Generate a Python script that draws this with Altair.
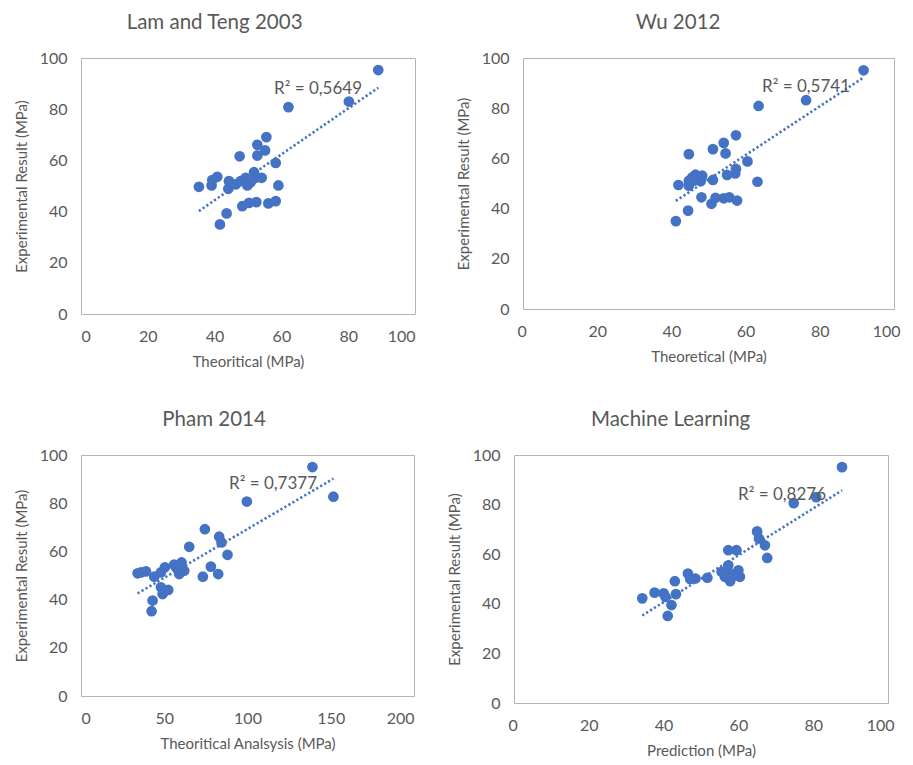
import altair as alt
import pandas as pd

# ---------------- data ----------------
lam_x = [89.0, 62.1, 80.2, 55.5, 52.8, 55.1, 52.8, 47.5, 58.3, 35.3, 39.1, 39.3, 40.8,
         44.3, 44.1, 46.3, 47.8, 49.3, 49.8, 51.8, 52.3, 54.1, 50.8, 59.1, 48.3, 50.3,
         52.5, 56.1, 58.3, 43.6, 41.6]
lam_y = [95.3, 80.8, 83.0, 69.1, 66.1, 63.9, 61.9, 61.6, 59.0, 49.7, 50.2, 52.3, 53.6,
         51.9, 48.9, 50.6, 51.9, 53.2, 50.2, 55.4, 53.2, 53.2, 51.5, 50.2, 42.1, 43.4,
         43.7, 43.2, 44.1, 39.3, 35.0]

wu_x = [91.8, 63.5, 76.3, 57.4, 54.1, 51.2, 54.6, 44.7, 60.5, 57.4, 57.2, 55.0, 41.9,
        44.7, 44.7, 46.5, 48.3, 46.1, 47.9, 51.2, 45.6, 63.2, 48.1, 50.8, 51.9, 54.1,
        55.6, 57.7, 44.5, 41.2]
wu_y = [95.1, 80.9, 83.2, 69.2, 66.2, 63.7, 62.0, 61.7, 58.8, 55.8, 54.0, 53.4, 49.4,
        51.1, 49.1, 53.5, 53.1, 51.1, 50.9, 51.4, 52.4, 50.7, 44.5, 41.9, 44.3, 44.1,
        44.5, 43.2, 39.2, 35.0]

pham_x = [139.0, 151.6, 99.6, 74.4, 83.0, 84.4, 65.0, 88.0, 34.0, 39.0, 44.0, 48.0,
          50.4, 56.0, 60.4, 59.0, 62.0, 78.0, 73.2, 82.4, 48.0, 52.4, 49.0, 43.0, 42.4,
          36.0, 57.0, 49.8]
pham_y = [95.0, 82.7, 80.7, 69.2, 66.1, 63.7, 61.9, 58.6, 50.9, 51.7, 49.5, 51.3,
          53.4, 54.5, 55.4, 50.6, 52.0, 53.7, 49.5, 50.6, 45.1, 44.0, 42.3, 39.6, 35.2,
          51.3, 53.4, 43.3]

ml_x = [87.7, 74.8, 80.8, 65.0, 65.5, 67.1, 57.3, 59.5, 67.7, 57.3, 55.5, 57.8, 60.0,
        59.1, 57.8, 60.4, 56.4, 51.7, 46.5, 48.5, 47.1, 43.0, 34.3, 37.6, 40.0, 40.5,
        43.3, 42.1, 41.1]
ml_y = [95.1, 80.6, 83.0, 69.2, 66.3, 63.6, 61.6, 61.6, 58.5, 55.5, 52.9, 52.2, 53.5,
        51.5, 49.1, 50.9, 50.9, 50.5, 52.2, 50.2, 50.0, 49.1, 42.2, 44.5, 44.2, 42.8,
        43.9, 39.5, 35.1]

titles = ["Lam and Teng 2003", "Wu 2012", "Pham 2014", "Machine Learning"]
x_titles = ["Theoritical (MPa)", "Theoretical (MPa)", "Theoritical Analsysis (MPa)", "Prediction (MPa)"]
y_title = "Experimental Result (MPa)"
r2_texts = ["R\u00b2 = 0,5649", "R\u00b2 = 0,5741", "R\u00b2 = 0,7377", "R\u00b2 = 0,8276"]
x_ticks_100 = [0, 20, 40, 60, 80, 100]
x_ticks_200 = [0, 50, 100, 150, 200]
y_ticks = [0, 20, 40, 60, 80, 100]

# ---------------- style ----------------
BLUE = "#4472C4"
GREY = "#595959"
FONT = "Lato"


def panel(xs, ys, title, xtitle, r2, xticks, w, h, tx, ty, flush=False):
    df = pd.DataFrame({"x": xs, "y": ys})
    base = alt.Chart(df)
    xaxis = alt.Axis(values=xticks, title=xtitle, labelFlush=flush, labelFlushOffset=6) if flush \
        else alt.Axis(values=xticks, title=xtitle)
    xenc = alt.X("x:Q", scale=alt.Scale(domain=[xticks[0], xticks[-1]], nice=False, zero=True),
                 axis=xaxis)
    yenc = alt.Y("y:Q", scale=alt.Scale(domain=[0, 100], nice=False),
                 axis=alt.Axis(values=y_ticks, title=y_title))
    pts = base.mark_circle(size=115, color=BLUE, opacity=1).encode(x=xenc, y=yenc)
    trend = base.transform_regression("x", "y").mark_line(
        color=BLUE, strokeWidth=2.6, strokeDash=[2.2, 2.4]
    ).encode(x="x:Q", y="y:Q")
    label = alt.Chart(pd.DataFrame({"t": [r2]})).mark_text(
        align="left", baseline="middle", fontSize=17, color=GREY, font=FONT
    ).encode(text="t:N", x=alt.value(tx), y=alt.value(ty))
    return alt.layer(pts, trend, label).properties(
        width=w, height=h,
        title=alt.TitleParams(title, frame="bounds", anchor="middle"),
    )


p1 = panel(lam_x, lam_y, titles[0], x_titles[0], r2_texts[0], x_ticks_100, 334, 256, 193, 31)
p2 = panel(wu_x, wu_y, titles[1], x_titles[1], r2_texts[1], x_ticks_100, 371, 251, 239, 29, flush=True)
p3 = panel(pham_x, pham_y, titles[2], x_titles[2], r2_texts[2], x_ticks_200, 333, 241, 148, 29)
p4 = panel(ml_x, ml_y, titles[3], x_titles[3], r2_texts[3], x_ticks_100, 374, 248, 224, 40, flush=True)

chart = alt.vconcat(
    alt.hconcat(p1, p2, spacing=39),
    alt.hconcat(p3, p4, spacing=31),
    spacing=39,
).properties(
    background="white",
    padding={"left": 5, "top": 4, "right": 0, "bottom": 0},
).configure_view(
    stroke="#b4b4b4", strokeWidth=1
).configure_axis(
    grid=False, ticks=False, domain=False,
    labelFont=FONT, labelFontSize=16, labelColor=GREY, labelPadding=14,
    titleFont=FONT, titleFontSize=15, titleColor=GREY, titleFontWeight="normal",
    titlePadding=10,
).configure_title(
    font=FONT, fontSize=20.5, color=GREY, fontWeight="normal", offset=17,
)

chart.save("out.html", embed_options={"renderer": "svg", "actions": False})
